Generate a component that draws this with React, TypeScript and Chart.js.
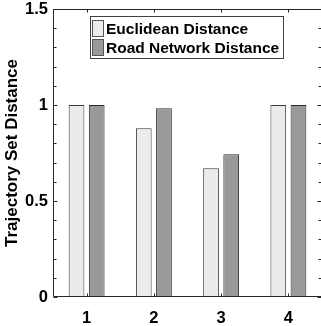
import { useEffect, useRef } from "react";
import { Chart, registerables } from "chart.js";

Chart.register(...registerables);

const categories = ["1", "2", "3", "4"];
const seriesLabels = ["Euclidean Distance", "Road Network Distance"];
const euclidean = [1.0, 0.879, 0.67, 1.0];
const roadNetwork = [1.0, 0.983, 0.743, 1.0];
const yMajorTicks = [0, 0.5, 1, 1.5];
const yMinorStep = 0.1;
const yTitle = "Trajectory Set Distance";

const FONT = "'Liberation Sans', Arial, Helvetica, sans-serif";
const AXIS_COLOR = "#262626";

const isMajor = (v: number) => yMajorTicks.some((m) => Math.abs(m - v) < 1e-6);

const framePlugin = {
  id: "matlabFrame",
  afterDatasetsDraw(chart: any) {
    const { ctx, chartArea: a, scales } = chart;
    const xs = scales.x;
    const ys = scales.y;
    const L = Math.round(a.left) + 0.5;
    const R = Math.round(a.right) - 0.5;
    const T = Math.round(a.top) + 0.5;
    const B = Math.round(a.bottom) - 0.5;
    ctx.save();
    ctx.strokeStyle = AXIS_COLOR;
    ctx.lineWidth = 1;
    ctx.beginPath();
    ctx.moveTo(L, T);
    ctx.lineTo(R, T);
    ctx.lineTo(R, B);
    ctx.lineTo(L, B);
    ctx.closePath();
    ys.ticks.forEach((t: any) => {
      const py = Math.round(ys.getPixelForValue(t.value)) + 0.5;
      const len = isMajor(t.value) ? 4 : 3;
      ctx.moveTo(L, py);
      ctx.lineTo(L + len, py);
      ctx.moveTo(R, py);
      ctx.lineTo(R - len, py);
    });
    categories.forEach((_, i) => {
      const px = Math.round(xs.getPixelForValue(i)) + 0.5;
      ctx.moveTo(px, T);
      ctx.lineTo(px, T + 3);
      ctx.moveTo(px, B);
      ctx.lineTo(px, B - 3);
    });
    ctx.stroke();

    // legend box
    const lx = 90.5, ly = 16.5, lw = 193, lh = 42;
    ctx.fillStyle = "#ffffff";
    ctx.fillRect(lx, ly, lw, lh);
    ctx.strokeStyle = "#404040";
    ctx.strokeRect(lx, ly, lw, lh);
    ctx.font = `bold 15.5px ${FONT}`;
    ctx.textBaseline = "alphabetic";
    ctx.textAlign = "left";
    chart.data.datasets.forEach((ds: any, i: number) => {
      const sy = 20.5 + i * 19;
      ctx.fillStyle = ds.backgroundColor;
      ctx.fillRect(92.5, sy, 11, 16);
      ctx.strokeStyle = "#555555";
      ctx.strokeRect(92.5, sy, 11, 16);
      ctx.fillStyle = "#000000";
      ctx.fillText(ds.label, 106, 34 + i * 19);
    });
    ctx.restore();
  },
};

export default function App() {
  const ref = useRef<HTMLCanvasElement | null>(null);
  useEffect(() => {
    if (!ref.current) return;
    const chart = new Chart(ref.current, {
      type: "bar",
      data: {
        labels: categories,
        datasets: [
          {
            label: seriesLabels[0],
            data: euclidean,
            backgroundColor: "#ebebeb",
            borderColor: "#3a3a3a",
            borderWidth: 1,
          },
          {
            label: seriesLabels[1],
            data: roadNetwork,
            backgroundColor: "#999999",
            borderColor: "#2a2a2a",
            borderWidth: 1,
          },
        ],
      },
      options: {
        responsive: false,
        animation: false,
        devicePixelRatio: 1,
        categoryPercentage: 0.6,
        barPercentage: 0.78,
        layout: { padding: { top: 9, right: 2, left: 0, bottom: 0 } },
        plugins: {
          legend: { display: false },
          tooltip: { enabled: false },
        },
        scales: {
          x: {
            offset: true,
            grid: { display: false, drawTicks: false },
            border: { display: false },
            ticks: {
              color: "#000",
              font: { family: FONT, size: 16.5, weight: "bold" },
              padding: 12,
              maxRotation: 0,
            },
            afterFit: (s: any) => {
              s.height = 29;
              s.paddingLeft = 0;
              s.paddingRight = 0;
            },
          },
          y: {
            min: 0,
            max: 1.5,
            grid: { display: false, drawTicks: false },
            border: { display: false },
            ticks: {
              stepSize: yMinorStep,
              autoSkip: false,
              maxTicksLimit: 40,
              color: "#000",
              font: { family: FONT, size: 16.5, weight: "bold" },
              padding: 5,
              callback: (v: any) => (isMajor(Number(v)) ? String(Math.round(Number(v) * 10) / 10) : ""),
            },
            title: {
              display: true,
              text: yTitle,
              color: "#000",
              font: { family: FONT, size: 17, weight: "bold" },
              padding: { top: 2, bottom: 0 },
            },
            afterFit: (s: any) => {
              s.width = 53;
              s.paddingTop = 0;
              s.paddingBottom = 0;
            },
          },
        },
      },
      plugins: [framePlugin],
    });
    return () => chart.destroy();
  }, []);
  return (
    <div style={{ position: "absolute", left: 0, top: 0, width: 321, height: 326, overflow: "hidden", background: "#fff" }}>
      <canvas ref={ref} width={324} height={326} style={{ display: "block", width: 324, height: 326 }} />
    </div>
  );
}
